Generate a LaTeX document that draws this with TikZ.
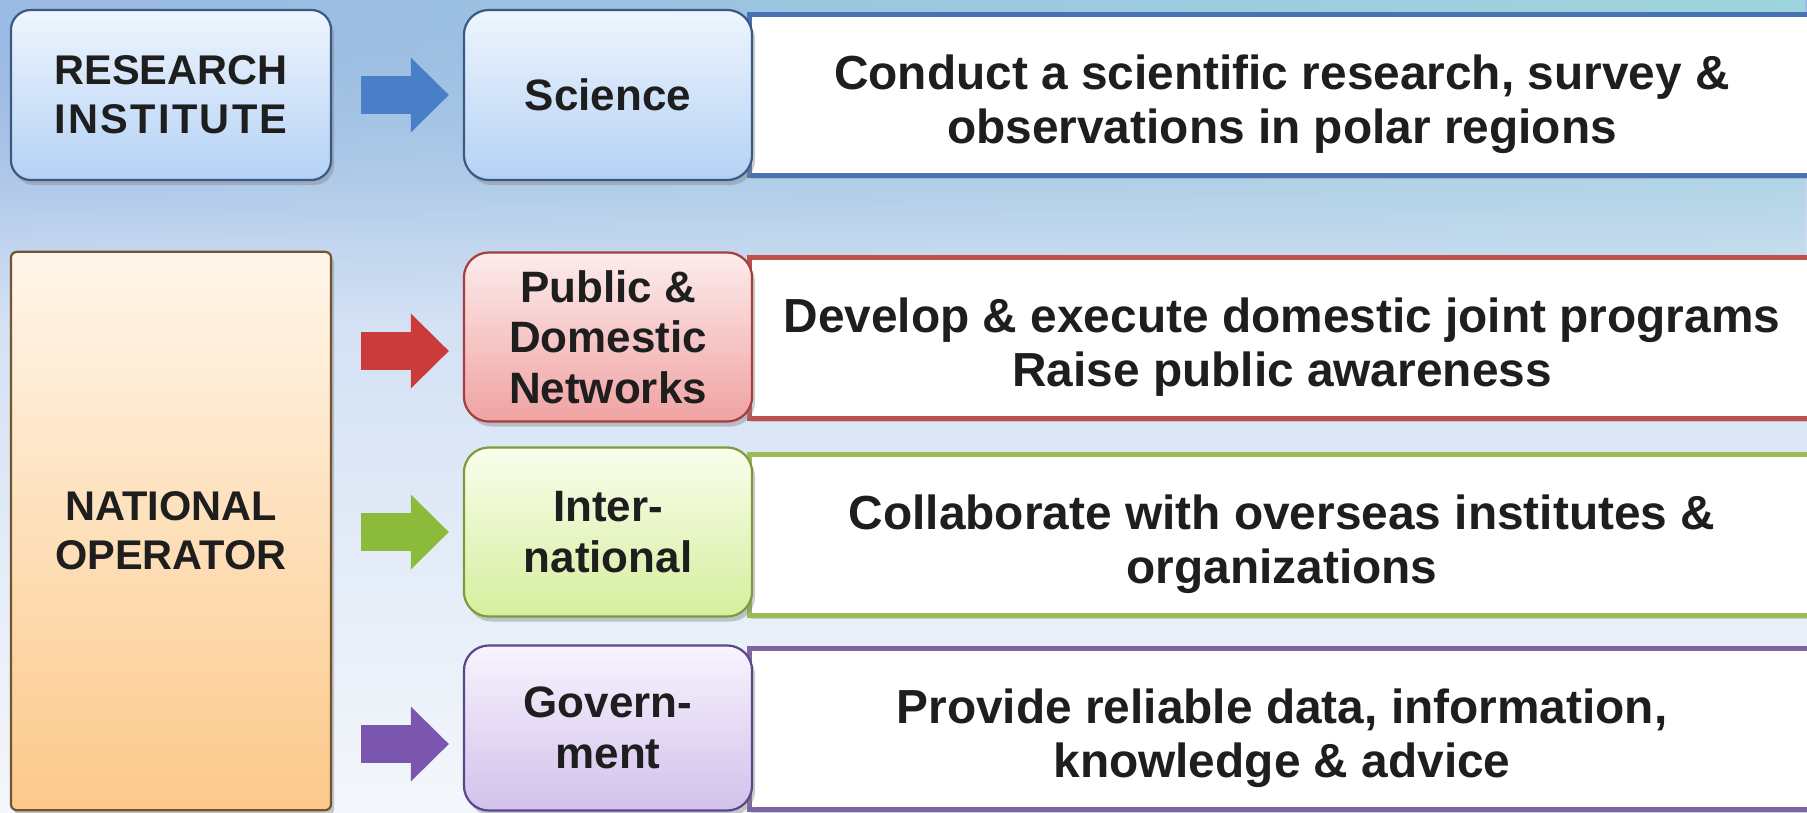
\documentclass[tikz,border=0pt]{standalone}
\usepackage{fontspec}
\setmainfont{Liberation Sans}
\usepackage{tikz}
\usetikzlibrary{arrows.meta, shadows, fadings}

% background
\definecolor{bgtop}{HTML}{9BBAE4}
\definecolor{bgmid}{HTML}{CFDEF3}
\definecolor{bgbot}{HTML}{F4F7FB}
\definecolor{bgcyan}{HTML}{9ED6DC}
\definecolor{txt}{HTML}{1E1E1E}
% box colours: line, top, bottom
\definecolor{blueline}{HTML}{3A5A86}
\definecolor{bluetop}{HTML}{EEF5FD}
\definecolor{bluebot}{HTML}{B4D1F5}
\definecolor{orangeline}{HTML}{735431}
\definecolor{orangetop}{HTML}{FFF6EA}
\definecolor{orangebot}{HTML}{FCC98A}
\definecolor{redline}{HTML}{A24040}
\definecolor{redtop}{HTML}{FDECEC}
\definecolor{redbot}{HTML}{F0A2A2}
\definecolor{greenline}{HTML}{7A9C3E}
\definecolor{greentop}{HTML}{FAFEEC}
\definecolor{greenbot}{HTML}{D5EE9E}
\definecolor{purpleline}{HTML}{5A4689}
\definecolor{purpletop}{HTML}{F8F3FD}
\definecolor{purplebot}{HTML}{D1C1EC}
% arrows and task frames
\definecolor{bluearrow}{HTML}{4A7FC8}
\definecolor{redarrow}{HTML}{CC3B3B}
\definecolor{greenarrow}{HTML}{8CBB3C}
\definecolor{purplearrow}{HTML}{7A56AE}
\definecolor{blueframe}{HTML}{4A72B0}
\definecolor{redframe}{HTML}{C0504D}
\definecolor{greenframe}{HTML}{9BBB59}
\definecolor{purpleframe}{HTML}{8064A2}

\tikzfading[name=fadedown, top color=transparent!0, bottom color=transparent!100]

\begin{document}
\begin{tikzpicture}[x=0.01cm, y=-0.01cm,
    unitbox/.style={rounded corners=0.2cm, line width=0.022cm, draw=#1line,
      top color=#1top, bottom color=#1bot, text=txt, align=center,
      drop shadow={shadow xshift=0.03cm, shadow yshift=-0.05cm, opacity=0.4},
      minimum width=3.2cm, font=\bfseries\fontsize{11.8}{14}\selectfont},
    rolebox/.style={unitbox=#1, rounded corners=0.25cm,
      minimum width=2.88cm, font=\bfseries\fontsize{12.5}{14.4}\selectfont},
    taskbox/.style={draw=#1frame, line width=0.05cm, fill=white, text=txt,
      align=center, minimum width=10.65cm, minimum height=1.6cm,
      drop shadow={shadow xshift=0.02cm, shadow yshift=-0.04cm, opacity=0.3},
      execute at begin node={\rule[-4pt]{0pt}{35.8pt}},
      font=\bfseries\fontsize{13.6}{15.6}\selectfont},
    blockarrow/.style={draw=#1arrow, line width=0.38cm,
      -{Triangle[length=0.38cm, width=0.75cm, line width=0pt]},
      shorten <=0.29cm, shorten >=0.14cm}]
\useasboundingbox (0,0) rectangle (1807,812);
\clip (0,0) rectangle (1807,812);

% background
\shade[top color=bgtop, bottom color=bgmid] (0,0) rectangle (1807,250);
\shade[top color=bgmid, bottom color=bgbot] (0,250) rectangle (1807,812);
\shade[left color=bgtop, right color=bgcyan, path fading=fadedown] (0,0) rectangle (1807,320);

% task frames on the right
\node[taskbox=blue]   (sciTask)  at (1282,95)  {Conduct a scientific research, survey \&\\observations in polar regions};
\node[taskbox=red]    (pubTask)  at (1282,338) {Develop \& execute domestic joint programs\\Raise public awareness};
\node[taskbox=green]  (intlTask) at (1282,535) {Collaborate with overseas institutes \&\\organizations};
\node[taskbox=purple] (govTask)  at (1282,729) {Provide reliable data, information,\\knowledge \& advice};

% left boxes
\node[unitbox=blue, minimum height=1.7cm] (resinst) at (171,95)
  {RESEARCH\\{\addfontfeature{LetterSpace=5.5}INSTITUTE}};
\node[unitbox=orange, rounded corners=0.06cm, minimum height=5.58cm] (natop) at (171,531)
  {NATIONAL\\OPERATOR};

% role boxes
\node[rolebox=blue, minimum height=1.7cm]    (science) at (608,95)  {Science};
\node[rolebox=red, minimum height=1.69cm]    (pubnet)  at (608,337) {Public \&\\Domestic\\Networks};
\node[rolebox=green, minimum height=1.69cm]  (intl)    at (608,532) {Inter-\\national};
\node[rolebox=purple, minimum height=1.65cm] (govt)    at (608,728) {Govern-\\ment};

% arrows
\draw[blockarrow=blue]   (resinst.east) -- (science.west);
\draw[blockarrow=red]    ([yshift=-0.14cm]natop.east |- pubnet.west) -- ([yshift=-0.14cm]pubnet.west);
\draw[blockarrow=green]  (natop.east |- intl.west) -- (intl.west);
\draw[blockarrow=purple] ([yshift=-0.16cm]natop.east |- govt.west) -- ([yshift=-0.16cm]govt.west);
\end{tikzpicture}
\end{document}
